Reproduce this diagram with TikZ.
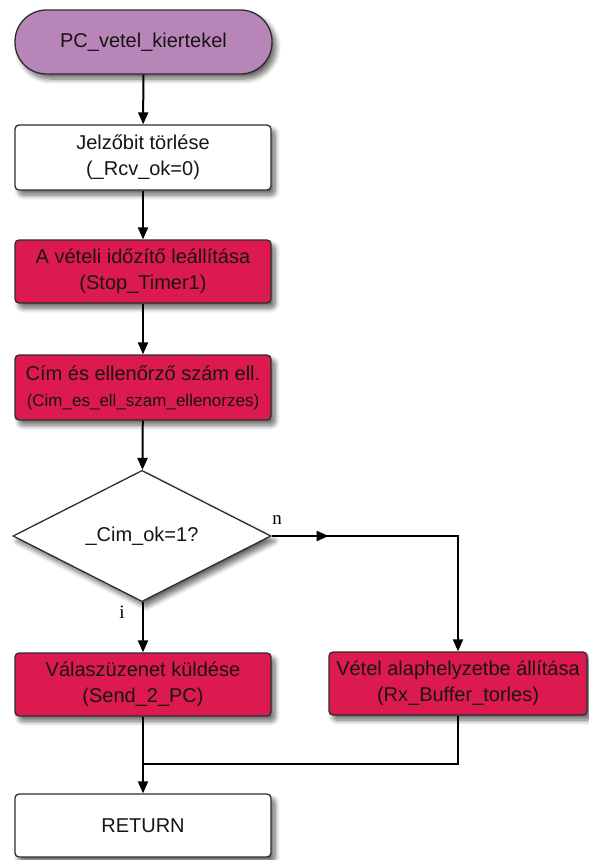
\documentclass[tikz,border=0pt]{standalone}
\usepackage{fontspec}
\setmainfont{Liberation Sans}
\newfontfamily\lblfont{Liberation Serif}
\usetikzlibrary{shapes.geometric,arrows.meta,shadows.blur,decorations.markings}
\definecolor{termfill}{RGB}{184,133,185}
\definecolor{redfill}{RGB}{220,26,80}
\definecolor{bordc}{RGB}{45,45,45}
\definecolor{txtc}{RGB}{25,20,20}
\tikzset{
  base/.style={draw=bordc, line width=1.3pt, text=txtc, align=center,
    font=\fontsize{20}{26}\selectfont, inner sep=0pt,
    blur shadow={shadow xshift=4pt, shadow yshift=-5pt, shadow blur steps=8, shadow blur radius=5pt, shadow opacity=60}},
  term/.style={base, rectangle, rounded corners=31.5pt, fill=termfill, minimum width=257pt, minimum height=64pt},
  wbox/.style={base, rectangle, rounded corners=4pt, fill=white, minimum width=256pt, minimum height=64pt},
  rbox/.style={base, rectangle, rounded corners=4pt, fill=redfill, minimum width=256pt, minimum height=64pt},
  dec/.style={base, diamond, fill=white, minimum width=258pt, minimum height=128pt},
  conn/.style={draw=black, line width=2pt},
  arr/.style={conn, -{Triangle[length=12pt,width=10pt]}},
  lbl/.style={font=\lblfont\fontsize{19}{19}\selectfont, text=black, inner sep=0pt},
}
\begin{document}
\begin{tikzpicture}[x=1pt,y=-1pt]
\useasboundingbox (0,0) rectangle (589,860);
\node[term] (start) at (143.5,42) {PC\_vetel\_kiertekel};
\node[wbox, minimum height=65pt] (b1) at (143,157.5) {Jelzőbit törlése\\(\_Rcv\_ok=0)};
\node[rbox, minimum height=63pt] (b2) at (143,271.5) {A vételi időzítő leállítása\\(Stop\_Timer1)};
\node[rbox, minimum height=65pt] (b3) at (143,387.5) {Cím és ellenőrző szám ell.\\{\fontsize{17}{22}\selectfont(Cim\_es\_ell\_szam\_ellenorzes)}};
\node[dec] (dia) at (142,536) {\_Cim\_ok=1?};
\node[rbox, minimum height=63pt] (lb) at (143,684.5) {Válaszüzenet küldése\\(Send\_2\_PC)};
\node[rbox, minimum height=63pt, minimum width=258pt] (rb) at (458,683.5) {Vétel alaphelyzetbe állítása\\(Rx\_Buffer\_torles)};
\node[wbox, minimum height=63pt] (ret) at (143,825.5) {RETURN};
\coordinate (m) at (143,764);
\node[lbl] (ln) at (277,520) {n};
\node[lbl] (li) at (122,612) {i};
\draw[arr] (start) -- (b1);
\draw[arr] (b1) -- (b2);
\draw[arr] (b2) -- (b3);
\draw[arr] (b3) -- (dia);
\draw[arr] (dia.south -| lb.north) -- (lb.north);
\draw[arr, postaction={decorate, decoration={markings, mark=at position 57pt with {\arrow{Triangle[length=12pt,width=10pt]}}}}] (dia.east) -| (rb.north);
\draw[conn] (rb.south) |- (m);
\draw[arr] (lb.south) -- (ret.north);
\end{tikzpicture}
\end{document}
